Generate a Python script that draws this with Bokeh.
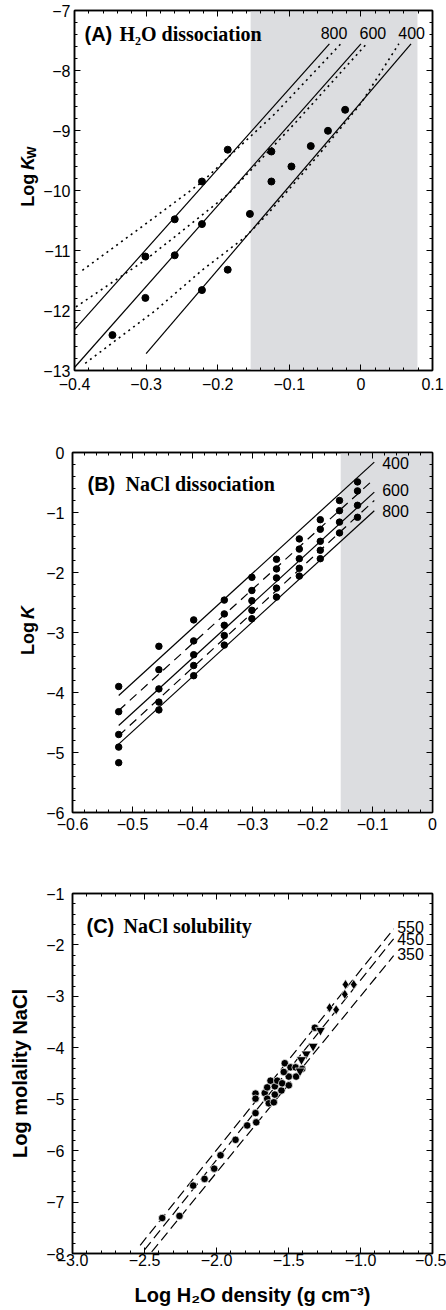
import numpy as np
from bokeh.plotting import figure
from bokeh.layouts import column, row
from bokeh.models import BoxAnnotation, Label, LinearAxis, FixedTicker, Range1d
from bokeh.core.properties import value
from bokeh.embed import file_html
from bokeh.resources import INLINE

SANS = "Liberation Sans"
SERIF = "Liberation Serif"

# ---------------- Panel A: H2O dissociation ----------------
a_pts_x = [-0.186, -0.222, -0.260, -0.301, -0.222, -0.260, -0.301, -0.186, -0.222, -0.347,
           -0.155, -0.125, -0.125, -0.097, -0.070, -0.046, -0.022]
a_pts_y = [-9.32, -9.85, -10.48, -11.10, -10.56, -11.08, -11.79, -11.32, -11.66, -12.41,
           -10.39, -9.35, -9.85, -9.60, -9.26, -9.005, -8.655]
a_solid = {
    "800": ([-0.400, -0.044], [-12.32, -7.555]),
    "600": ([-0.400, 0.000], [-12.95, -7.555]),
    "400": ([-0.300, 0.070], [-12.72, -7.555]),
}
a_dotted = {
    "800": ([-0.389, -0.310, -0.222, -0.167, -0.120, -0.028],
            [-11.33, -10.64, -9.86, -9.24, -8.72, -7.555]),
    "600": ([-0.398, -0.300, -0.185, -0.090, 0.008],
            [-11.94, -11.15, -10.06, -8.85, -7.555]),
    "400": ([-0.385, -0.287, -0.222, -0.162, -0.130, -0.060, 0.000, 0.053],
            [-12.88, -12.00, -11.33, -10.78, -10.39, -9.42, -8.55, -7.555]),
}
a_curve_labels = ["800", "600", "400"]
a_label_x = [-0.0375, 0.0167, 0.0708]
a_label_y = [-7.367, -7.367, -7.367]
a_shade = (-0.154, 0.079)
a_xticks = [-0.4, -0.3, -0.2, -0.1, 0.0, 0.1]
a_xlabels = ["\u22120.4", "\u22120.3", "\u22120.2", "\u22120.1", "0", "0.1"]
a_yticks = [-13, -12, -11, -10, -9, -8, -7]
a_ylabels = ["\u221213", "\u221212", "\u221211", "\u221210", "\u22129", "\u22128", "\u22127"]

# ---------------- Panel B: NaCl dissociation ----------------
b_cols = [-0.523, -0.456, -0.398, -0.347, -0.301, -0.260, -0.222, -0.187, -0.155, -0.125]
b_vals = [
    [-3.90, -4.32, -4.70, -4.91, -5.17],
    [-3.23, -3.62, -3.94, -4.16, -4.29],
    [-2.79, -3.14, -3.37, -3.55, -3.72],
    [-2.46, -2.69, -2.88, -3.05, -3.21],
    [-2.08, -2.30, -2.47, -2.63, -2.77],
    [-1.78, -1.94, -2.09, -2.26, -2.41],
    [-1.44, -1.61, -1.77, -1.93, -2.06],
    [-1.12, -1.28, -1.48, -1.63, -1.77],
    [-0.80, -0.97, -1.16, -1.34],
    [-0.49, -0.64, -0.88, -1.08],
]
b_line_x = [-0.523, -0.097]
b_lines = {
    "400": ([-4.05, -0.16], "solid"),
    "500": ([-4.30, -0.44], "dashed"),
    "600": ([-4.55, -0.66], "solid"),
    "700": ([-4.72, -0.80], "dashed"),
    "800": ([-4.86, -0.97], "solid"),
}
b_curve_labels = ["400", "600", "800"]
b_label_x = [-0.0838, -0.0838, -0.0838]
b_label_y = [-0.183, -0.633, -0.967]
b_shade = (-0.153, 0.0)
b_xticks = [-0.6, -0.5, -0.4, -0.3, -0.2, -0.1, 0.0]
b_xlabels = ["\u22120.6", "\u22120.5", "\u22120.4", "\u22120.3", "\u22120.2", "\u22120.1", "0"]
b_yticks = [-6, -5, -4, -3, -2, -1, 0]
b_ylabels = ["\u22126", "\u22125", "\u22124", "\u22123", "\u22122", "\u22121", "0"]

# ---------------- Panel C: NaCl solubility ----------------
c_circ_x = [-2.377, -2.257, -2.162, -2.083, -2.016, -1.972, -1.868, -1.787,
            -1.729, -1.724, -1.729, -1.729, -1.665, -1.648, -1.648, -1.637, -1.602,
            -1.595, -1.595, -1.625, -1.578, -1.549, -1.544, -1.498, -1.498, -1.533,
            -1.526, -1.486, -1.451, -1.447, -1.405, -1.317]
c_circ_y = [-7.31, -7.27, -6.68, -6.55, -6.35, -6.09, -5.79, -5.51,
            -5.27, -5.45, -4.89, -4.99, -4.88, -4.77, -4.99, -5.08, -5.06,
            -4.91, -4.75, -4.64, -4.64, -4.83, -4.69, -4.73, -4.56, -4.47,
            -4.30, -4.38, -4.38, -4.56, -4.41, -3.61]
c_tri_x = [-1.278, -1.329, -1.377, -1.410, -1.420]
c_tri_y = [-3.66, -3.97, -4.12, -4.23, -4.45]
c_dia_x = [-1.104, -1.047, -1.109, -1.215, -1.169]
c_dia_y = [-2.77, -2.77, -2.96, -3.22, -3.26]
c_lines = {
    "550": ([-2.53, -0.77], [-7.84, -1.69]),
    "450": ([-2.50, -0.77], [-7.93, -1.88]),
    "350": ([-2.45, -0.77], [-7.97, -2.21]),
}
c_curve_labels = ["550", "450", "350"]
c_label_x = [-0.745, -0.745, -0.745]
c_label_y = [-1.642, -1.894, -2.186]
c_xticks = [-3.0, -2.5, -2.0, -1.5, -1.0, -0.5]
c_xlabels = ["\u22123.0", "\u22122.5", "\u22122.0", "\u22121.5", "\u22121.0", "\u22120.5"]
c_yticks = [-8, -7, -6, -5, -4, -3, -2, -1]
c_ylabels = ["\u22128", "\u22127", "\u22126", "\u22125", "\u22124", "\u22123", "\u22122", "\u22121"]


def style_axis(ax, ticker, labels, standoff, show_labels=True):
    ax.ticker = ticker
    ax.axis_line_color = "black"
    ax.axis_line_width = 1.5
    ax.major_tick_line_color = "black"
    ax.minor_tick_line_color = "black"
    ax.major_tick_in = 6
    ax.major_tick_out = 0
    ax.minor_tick_in = 3
    ax.minor_tick_out = 0
    ax.major_label_standoff = standoff
    if show_labels:
        ax.major_label_overrides = dict(zip(ticker.ticks, labels))
        ax.major_label_text_font = SANS
        ax.major_label_text_font_size = "16px"
        ax.major_label_text_color = "black"
    else:
        ax.major_label_overrides = {t: "" for t in ticker.ticks}
        ax.major_label_text_font_size = "0px"


def make_fig(width, left, xr, yr, height, top, bottom, xticks, xlabels, xstep, yticks,
             ylabels, ystep, xstand, ystand):
    p = figure(width=width, height=height, x_range=Range1d(*xr), y_range=Range1d(*yr),
               output_backend="svg", toolbar_location=None,
               min_border_left=left, min_border_right=14,
               min_border_top=top, min_border_bottom=bottom)
    p.grid.visible = False
    p.outline_line_color = "black"
    p.outline_line_width = 1.5
    p.background_fill_color = "white"
    p.border_fill_color = "white"
    xminor = [float(v) for v in np.arange(xr[0], xr[1] + 1e-9, xstep)]
    yminor = [float(v) for v in np.arange(yr[0], yr[1] + 1e-9, ystep)]
    bottom_ax = p.below[0]
    left_ax = p.left[0]
    style_axis(bottom_ax, FixedTicker(ticks=xticks, minor_ticks=xminor), xlabels, xstand)
    style_axis(left_ax, FixedTicker(ticks=yticks, minor_ticks=yminor), ylabels, ystand)
    top_ax = LinearAxis()
    style_axis(top_ax, FixedTicker(ticks=xticks, minor_ticks=xminor), None, 0, False)
    p.add_layout(top_ax, "above")
    right_ax = LinearAxis()
    style_axis(right_ax, FixedTicker(ticks=yticks, minor_ticks=yminor), None, 0, False)
    p.add_layout(right_ax, "right")
    return p, bottom_ax, left_ax


def label_fig(width, height, parts):
    """A narrow figure that holds a vertical, mixed-style axis title."""
    lf = figure(width=width, height=height, x_range=Range1d(0, width),
                y_range=Range1d(0, height), output_backend="svg", toolbar_location=None,
                x_axis_location=None, y_axis_location=None, min_border=0,
                outline_line_color=None)
    lf.grid.visible = False
    for text, x, y, size, style in parts:
        lf.text(x=[x], y=[y], text=[text], angle=np.pi / 2, text_font=value(SANS),
                text_font_size=size, text_font_style=style, text_align="left",
                text_baseline="alphabetic", text_color="black")
    return lf


def add_label(p, text, x, y, font, size, style="normal", units="screen",
              align="left", baseline="alphabetic"):
    p.add_layout(Label(x=x, y=y, x_units=units, y_units=units, text=text, text_font=font,
                       text_font_size=size, text_font_style=style,
                       text_align=align, text_baseline=baseline, text_color="black"))


SHADE = "#dcdde0"
LW = 40  # width of the strip that holds the y titles of panels A and B

# ---------- Figure A ----------
pa, _, _ = make_fig(446 - LW, 72 - LW, (-0.4, 0.1), (-13, -7), 420, 10, 50,
                    a_xticks, a_xlabels, 0.02, a_yticks, a_ylabels, 0.2, 7, 4)
pa.add_layout(BoxAnnotation(left=a_shade[0], right=a_shade[1], fill_color=SHADE,
                            fill_alpha=1.0, line_alpha=0, level="underlay"))
for k, (xs, ys) in a_solid.items():
    pa.line(xs, ys, line_color="black", line_width=1.2)
for k, (xs, ys) in a_dotted.items():
    pa.line(xs, ys, line_color="black", line_width=1.6, line_dash="2 4")
pa.scatter(a_pts_x, a_pts_y, size=7, marker="circle", fill_color="black", line_color="black")
for t, x, y in zip(a_curve_labels, a_label_x, a_label_y):
    add_label(pa, t, x, y, SANS, "16px", units="data", align="center", baseline="middle")
add_label(pa, "(A)", 10, 337, SANS, "20px", "bold")
add_label(pa, "H\u2082O dissociation", 45, 337, SERIF, "20px", "bold")
la = label_fig(LW, 420, [("Log", 27, 191, "18px", "bold"),
                         ("K", 27, 234, "18px", "bold italic"),
                         ("W", 31, 247, "13px", "bold")])

# ---------- Figure B ----------
pb, _, _ = make_fig(446 - LW, 72 - LW, (-0.6, 0.0), (-6, 0), 430, 32, 38,
                    b_xticks, b_xlabels, 0.02, b_yticks, b_ylabels, 0.2, 5, 8)
pb.add_layout(BoxAnnotation(left=b_shade[0], right=b_shade[1], fill_color=SHADE,
                            fill_alpha=1.0, line_alpha=0, level="underlay"))
for k, (ys, kind) in b_lines.items():
    if kind == "solid":
        pb.line(b_line_x, ys, line_color="black", line_width=1.2)
    else:
        pb.line(b_line_x, ys, line_color="black", line_width=1.2, line_dash="9 6")
bx, by = [], []
for cx, vals in zip(b_cols, b_vals):
    for v in vals:
        bx.append(cx)
        by.append(v)
pb.scatter(bx, by, size=6.5, marker="circle", fill_color="black", line_color="black")
for t, x, y in zip(b_curve_labels, b_label_x, b_label_y):
    add_label(pb, t, x, y, SANS, "16px", units="data", align="left", baseline="middle")
add_label(pb, "(B)", 15, 329, SANS, "20px", "bold")
add_label(pb, "NaCl dissociation", 53, 329, SERIF, "20px", "bold")
lb = label_fig(LW, 430, [("Log", 27, 188, "18px", "bold"),
                         ("K", 27, 231, "18px", "bold italic")])

# ---------- Figure C ----------
pc, c_bottom, c_left = make_fig(446, 72, (-3.0, -0.5), (-8, -1), 460, 43, 57,
                                c_xticks, c_xlabels, 0.1, c_yticks, c_ylabels, 0.2, 0, 8)
for k, (xs, ys) in c_lines.items():
    pc.line(xs, ys, line_color="black", line_width=1.2, line_dash="10 5")
pc.scatter(c_circ_x, c_circ_y, size=7.5, marker="circle", fill_color="black",
           line_color="white", line_width=0.7)
pc.scatter(c_tri_x, c_tri_y, size=10, marker="inverted_triangle", fill_color="black",
           line_color="white", line_width=0.7)
pc.scatter(c_dia_x, c_dia_y, size=10, marker="diamond", fill_color="black",
           line_color="white", line_width=0.7)
for t, x, y in zip(c_curve_labels, c_label_x, c_label_y):
    add_label(pc, t, x, y, SANS, "16px", units="data", align="left", baseline="middle")
add_label(pc, "(C)", 14, 328, SANS, "20px", "bold")
add_label(pc, "NaCl solubility", 51, 328, SERIF, "20px", "bold")
c_left.axis_label = "Log molality NaCl"
c_left.axis_label_text_font = SANS
c_left.axis_label_text_font_style = "bold"
c_left.axis_label_text_font_size = "20px"
c_left.axis_label_text_color = "black"
c_left.axis_label_standoff = 12
c_bottom.axis_label = "Log H\u2082O density (g cm\u207b\u00b3)"
c_bottom.axis_label_text_font = SANS
c_bottom.axis_label_text_font_style = "bold"
c_bottom.axis_label_text_font_size = "20px"
c_bottom.axis_label_text_color = "black"
c_bottom.axis_label_standoff = 15

layout = column(row(la, pa, spacing=0), row(lb, pb, spacing=0), pc, spacing=0)
open("out.html", "w").write(file_html(layout, INLINE))
